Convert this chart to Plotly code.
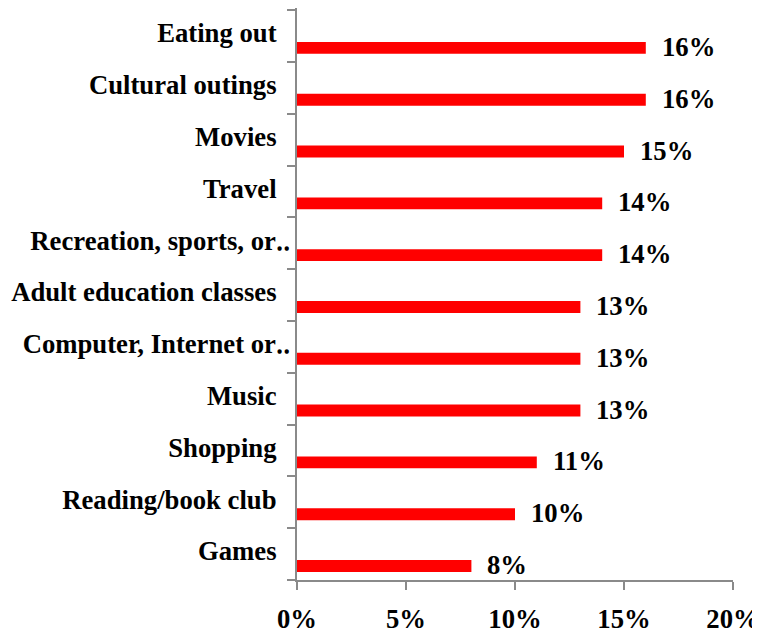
import plotly.graph_objects as go

categories = ["Eating out", "Cultural outings", "Movies", "Travel",
              "Recreation, sports, or\u2025", "Adult education classes",
              "Computer, Internet or\u2025", "Music", "Shopping",
              "Reading/book club", "Games"]
values = [0.16, 0.16, 0.15, 0.14, 0.14, 0.13, 0.13, 0.13, 0.11, 0.10, 0.08]
value_labels = ["16%", "16%", "15%", "14%", "14%", "13%", "13%", "13%", "11%", "10%", "8%"]
x_ticks = [0, 0.05, 0.10, 0.15, 0.20]
x_tick_labels = ["0%", "5%", "10%", "15%", "20%"]

FONT = "Liberation Serif"
FS = 26.7
GRAY = "#8a8a8a"

# labels that are not truncated carry trailing space in the original
tick_text = [c if c.endswith("\u2025") else c + "\u00a0\u00a0" for c in categories]

fig = go.Figure()
fig.add_trace(go.Bar(
    x=values, y=categories, orientation="h",
    marker=dict(color="#FF0000", line=dict(width=0)),
    width=0.23, offset=0.115,
    hoverinfo="skip",
))

for c, v, t in zip(categories, values, value_labels):
    fig.add_annotation(x=v, y=c, text=t, showarrow=False,
                       xanchor="left", yanchor="middle",
                       xshift=14, yshift=-11,
                       font=dict(family=FONT, size=FS, color="black", weight="bold"))

# the page body adds an 8px offset, so the figure is 752x626
fig.update_layout(
    width=752, height=626,
    margin=dict(l=289, r=27, t=0, b=54, autoexpand=False),
    paper_bgcolor="white", plot_bgcolor="white",
    showlegend=False,
    font=dict(family=FONT, size=FS, color="black", weight="bold"),
)
fig.update_yaxes(
    type="category", categoryorder="array", categoryarray=categories,
    autorange="reversed", automargin=False,
    tickmode="array", tickvals=categories, ticktext=tick_text,
    showline=True, linecolor=GRAY, linewidth=1.5,
    ticks="outside", tickson="boundaries", ticklen=8, tickcolor=GRAY, tickwidth=1.5,
    showgrid=False, zeroline=False,
    ticklabelshift=3,
    tickfont=dict(family=FONT, size=FS, color="black", weight="bold"),
)
fig.update_xaxes(
    range=[0, 0.20], tickmode="array", tickvals=x_ticks, ticktext=x_tick_labels,
    automargin=False,
    showline=True, linecolor=GRAY, linewidth=1.5,
    ticks="outside", ticklen=8, tickcolor=GRAY, tickwidth=1.5,
    showgrid=False, zeroline=False,
    ticklabelstandoff=6,
    tickfont=dict(family=FONT, size=FS, color="black", weight="bold"),
)

fig.write_html("out.html")
